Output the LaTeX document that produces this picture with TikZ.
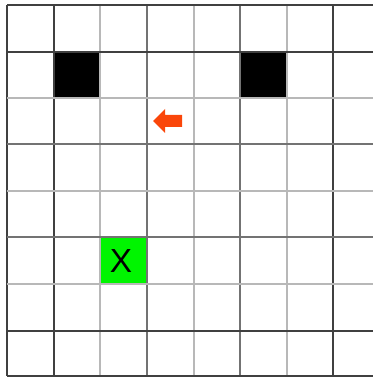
\documentclass[tikz,border=0pt]{standalone}
\usepackage{fontspec}
\setsansfont{Liberation Sans}
\usepackage{tikz}
\definecolor{WallBlack}{RGB}{0,0,0}
\definecolor{GoalGreen}{RGB}{0,245,0}
\definecolor{AgentRed}{RGB}{250,70,10}
\tikzset{
	darkline/.style={draw=black!75,line width=0.6pt},
	midline/.style={draw=black!55,line width=0.8pt},
	lightline/.style={draw=black!28,line width=1.5pt},
	wall/.style={fill=WallBlack},
	goal/.style={fill=GoalGreen},
}

\begin{document}
\begin{tikzpicture}[x=0.02cm,y=-0.02cm]
			\useasboundingbox (0,0) rectangle (373,377);
			% cells
			\fill[wall] (54,52) rectangle (100,98);
			\fill[wall] (240,52) rectangle (287,98);
			\fill[goal] (100,237) rectangle (147,284);
			% grid lines
			\foreach \x/\s in {7/darkline,54/darkline,100/lightline,147/midline,194/lightline,240/midline,287/lightline,333/darkline}
				\draw[\s] (\x,5) -- (\x,376);
			\foreach \y/\s in {5/darkline,52/darkline,98/lightline,144/midline,191/lightline,237/midline,284/lightline,331/darkline,376/darkline}
				\draw[\s] (7,\y) -- (373,\y);
			% agent arrow
			\fill[AgentRed] (153,121) -- (165,109) -- (165,115) -- (182,115) -- (182,127) -- (165,127) -- (165,133) -- cycle;
			\node[font=\sffamily\fontsize{19}{19}\selectfont,inner sep=0pt] (goalx) at (121,261) {X};
		\end{tikzpicture}
\end{document}
